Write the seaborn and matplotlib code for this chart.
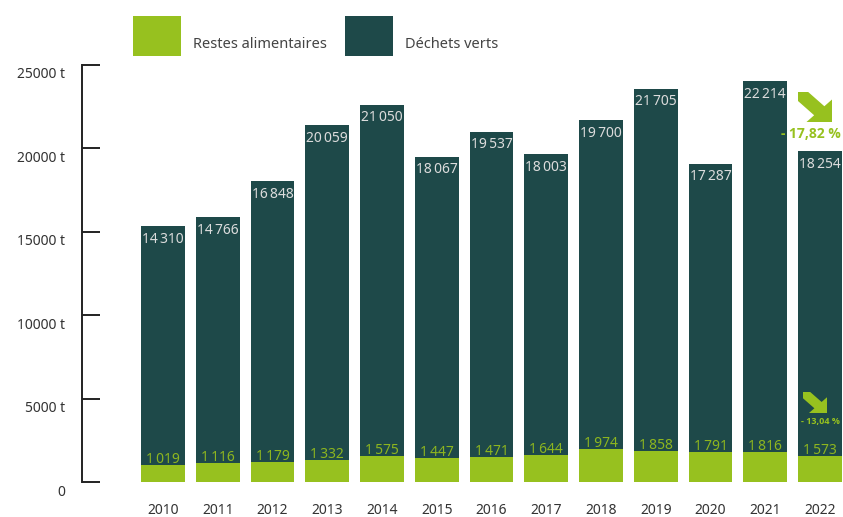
import numpy as np
import pandas as pd
import matplotlib
matplotlib.use('Agg')
import matplotlib.pyplot as plt
import matplotlib.transforms as mtransforms
from matplotlib.patches import Rectangle, Polygon
import seaborn as sns

# data
years = ['2010', '2011', '2012', '2013', '2014', '2015', '2016',
         '2017', '2018', '2019', '2020', '2021', '2022']
restes = [1019, 1116, 1179, 1332, 1575, 1447, 1471, 1644, 1974, 1858, 1791, 1816, 1573]
dechets = [14310, 14766, 16848, 20059, 21050, 18067, 19537, 18003, 19700, 21705, 17287, 22214, 18254]
series_names = ['Restes alimentaires', 'Déchets verts']
yticks = [0, 5000, 10000, 15000, 20000, 25000]
ytick_labels = ['0', '5000 t', '10000 t', '15000 t', '20000 t', '25000 t']
change_dechets = '- 17,82 %'
change_restes = '- 13,04 %'

GREEN = '#97c11f'
DARK = '#1e4949'
W, H = 843, 517


def fmt(v):
    return f'{v:,}'.replace(',', '\u2009')


sns.set_theme(style='white')
plt.rcParams['font.family'] = ['Noto Sans', 'DejaVu Sans']

df = pd.DataFrame({'year': years, 'restes': restes, 'dechets': dechets})
df['total'] = df['restes'] + df['dechets']

fig = plt.figure(figsize=(8.43, 5.17), dpi=100)
ax = fig.add_axes([82 / W, 1 - 482 / H, (843 - 82) / W, (482 - 65) / H])

sns.barplot(data=df, x='year', y='total', color=DARK, saturation=1, width=0.8, linewidth=0, ax=ax)
sns.barplot(data=df, x='year', y='restes', color=GREEN, saturation=1, width=0.8, linewidth=0, ax=ax)

ax.set_xlim(-1.48, 12.42)
ax.set_ylim(0, 25000)
ax.set_xlabel('')
ax.set_ylabel('')

for s in ['top', 'right', 'bottom']:
    ax.spines[s].set_visible(False)
ax.spines['left'].set_color('#222222')
ax.spines['left'].set_linewidth(1.4)

ax.set_yticks(yticks)
ax.set_yticklabels(ytick_labels, fontsize=10, color='#333333')
ax.tick_params(axis='y', direction='in', length=13, width=1.4, color='#222222', pad=12, left=True)
ax.tick_params(axis='x', length=0, pad=15, labelsize=10, labelcolor='#333333')
shift = mtransforms.ScaledTranslation(0, -8 / 100, fig.dpi_scale_trans)
for lab in ax.get_yticklabels():
    lab.set_transform(lab.get_transform() + shift)

# value labels
for i, row in df.iterrows():
    ax.annotate(fmt(row['dechets']), (i, row['total']), xytext=(0, -13), textcoords='offset pixels',
                ha='center', va='center', fontsize=10, color='#dcdcdc')
    ax.annotate(fmt(row['restes']), (i, row['restes']), xytext=(0, -2), textcoords='offset pixels',
                ha='center', va='bottom', fontsize=10, color='#8db51f')

# change indicators on last bar
last = len(years) - 1
ax.annotate(change_dechets, (last, df['total'].iloc[-1]), xytext=(21, 17), textcoords='offset pixels',
            ha='right', va='center', fontsize=10, fontweight='bold', color=GREEN,
            family=['Open Sans', 'DejaVu Sans'])
ax.annotate(change_restes, (last, df['restes'].iloc[-1]), xytext=(0, 34), textcoords='offset pixels',
            ha='center', va='center', fontsize=6.5, fontweight='bold', color=GREEN,
            family=['Open Sans', 'DejaVu Sans'])


# down-right arrow shape with square tail, drawn in a figure pixel box (y downward)
def arrow(x0, y0, w, h):
    t, k = 0.3, 0.25
    pts = [(0, 0), (t, 0), ((1 + k + t) / 2, (1 + k - t) / 2), (1, k), (1, 1), (k, 1),
           ((1 + k - t) / 2, (1 + k + t) / 2), (0, t)]
    xy = [((x0 + u * w) / W, 1 - (y0 + v * h) / H) for u, v in pts]
    fig.add_artist(Polygon(xy, closed=True, transform=fig.transFigure, color=GREEN, lw=0))


arrow(798, 92, 34, 30)
arrow(803, 392, 24, 21)

# legend
for k, (name, col) in enumerate(zip(series_names, [GREEN, DARK])):
    x0 = [133, 345][k]
    fig.add_artist(Rectangle((x0 / W, 1 - 56 / H), 48 / W, 40 / H, transform=fig.transFigure,
                             color=col, lw=0))
    fig.text((x0 + 60) / W, 1 - 44 / H, name, fontsize=10.5, color='#444444', va='center', ha='left')

fig.savefig('out.png', dpi=100)
